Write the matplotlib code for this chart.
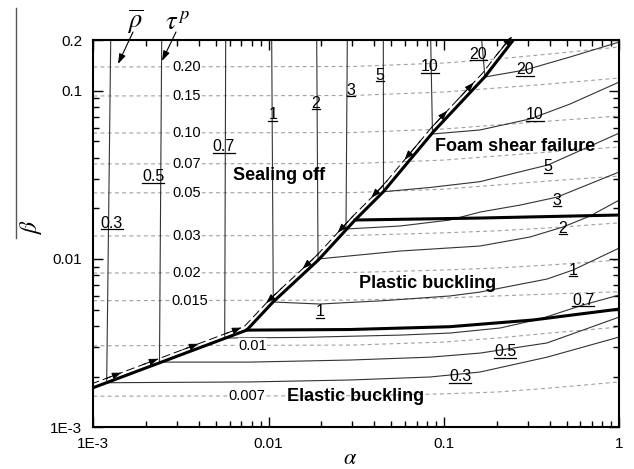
import numpy as np
import matplotlib
matplotlib.use('Agg')
import matplotlib.pyplot as plt
from matplotlib import transforms
from matplotlib.lines import Line2D
from matplotlib.ticker import NullFormatter

plt.rcParams['font.family'] = ['Liberation Sans', 'DejaVu Sans']
plt.rcParams['mathtext.fontset'] = 'stix'

W, H = 634, 469

# regime boundaries (thick lines)
bound_a = [0.001, 0.0075, 0.01063, 0.0192, 0.0311, 0.0451, 0.087, 0.1714, 0.2486]
bound_b = [0.00172, 0.00378, 0.00557, 0.00986, 0.01704, 0.02509, 0.057, 0.1211, 0.2]
elastic_a = [0.0075, 0.0291, 0.108, 0.322, 0.597, 1.0]
elastic_b = [0.00378, 0.00381, 0.00396, 0.00434, 0.00471, 0.00504]
shear_a = [0.0311, 0.1605, 1.0]
shear_b = [0.01704, 0.01751, 0.01825]

# rho-bar contours (solid thin lines)
rho_labels = ['0.3', '0.5', '0.7', '1', '2', '3', '5', '10', '20']
rho_a = [
    [0.001257, 0.001192, 0.00783, 0.0291, 0.0833, 0.1605, 0.387, 1.0],
    [0.002455, 0.002385, 0.00783, 0.0291, 0.0833, 0.1605, 0.387, 1.0],
    [0.00569, 0.005616, 0.0151, 0.0562, 0.108, 0.209, 0.353, 0.621, 1.0],
    [0.01041, 0.01063, 0.0196, 0.0449, 0.108, 0.1605, 0.387, 0.5445, 1.0],
    [0.0188, 0.01913, 0.0562, 0.1605, 0.3096, 0.4775, 0.681, 1.0],
    [0.0281, 0.02762, 0.0562, 0.108, 0.1605, 0.2715, 0.441, 1.0],
    [0.04509, 0.04521, 0.0833, 0.1605, 0.392, 1.0],
    [0.084, 0.086, 0.1605, 0.3096, 0.5236, 1.0],
    [0.1641, 0.1714, 0.29, 0.5236, 1.0],
]
rho_b = [
    [0.2, 0.00184, 0.00186, 0.00191, 0.00199, 0.00213, 0.00261, 0.00344],
    [0.2, 0.00244, 0.00244, 0.00251, 0.00261, 0.00276, 0.00317, 0.00452],
    [0.2, 0.00339, 0.00342, 0.00353, 0.00363, 0.00389, 0.0044, 0.00533, 0.00611],
    [0.2, 0.00555, 0.0054, 0.00565, 0.00603, 0.00636, 0.0076, 0.0086, 0.01162],
    [0.2, 0.01, 0.01115, 0.01194, 0.01351, 0.01549, 0.018, 0.0224],
    [0.2, 0.01507, 0.0157, 0.01704, 0.019, 0.0209, 0.0233, 0.0329],
    [0.2, 0.0251, 0.0266, 0.0288, 0.0362, 0.056],
    [0.2, 0.0553, 0.0584, 0.0679, 0.0833, 0.1126],
    [0.2, 0.1206, 0.1327, 0.1585, 0.1946],
]

# tau^p contours (dashed grey lines)
tau_labels = ['0.20', '0.15', '0.10', '0.07', '0.05', '0.03', '0.02', '0.015', '0.01', '0.007']
tau_a = [0.001, 0.03, 0.1, 0.2, 0.4, 1.0]
tau_b = [
    [0.1383, 0.1392, 0.146, 0.1542, 0.1651, 0.1817],
    [0.093, 0.0936, 0.0982, 0.1037, 0.1096, 0.1189],
    [0.056, 0.0564, 0.0592, 0.0625, 0.066, 0.0707],
    [0.0367, 0.0369, 0.0387, 0.0409, 0.0432, 0.0463],
    [0.0247, 0.0248, 0.026, 0.0275, 0.0291, 0.0311],
    [0.0137, 0.0138, 0.0143, 0.0147, 0.0153, 0.0164],
    [0.00825, 0.00831, 0.0086, 0.00884, 0.00921, 0.00986],
    [0.00565, 0.0057, 0.00586, 0.00603, 0.00619, 0.00639],
    [0.00305, 0.00308, 0.00321, 0.00339, 0.00363, 0.00394],
    [0.00153, 0.00154, 0.00158, 0.00162, 0.00171, 0.00186],
]

# label placement (alpha, beta)
rho_lab_pos = [
    ('0.3', 0.001273, 0.01629), ('0.5', 0.002199, 0.0308), ('0.7', 0.005564, 0.0465),
    ('1', 0.01055, 0.0717), ('2', 0.01863, 0.0841), ('3', 0.0295, 0.1009),
    ('5', 0.04316, 0.1231), ('10', 0.08325, 0.1383), ('20', 0.157, 0.1651),
    ('20', 0.2899, 0.1327), ('10', 0.3306, 0.0717), ('5', 0.3922, 0.0353),
    ('3', 0.4413, 0.0224), ('2', 0.4775, 0.01521), ('1', 0.5445, 0.0086),
    ('0.7', 0.621, 0.0057), ('1', 0.01963, 0.00486), ('0.5', 0.2229, 0.00281),
    ('0.3', 0.1235, 0.002),
]
tau_lab_a = [0.00342] * 7 + [0.00355, 0.00807, 0.00753]
regions = [
    ('Sealing off', 0.01146, 0.0315), ('Foam shear failure', 0.2531, 0.0463),
    ('Plastic buckling', 0.0811, 0.00717), ('Elastic buckling', 0.0315, 0.00152),
]
# arrows along the path: (alpha, direction)
arrows = [(0.001347, 1), (0.002188, 1), (0.003703, 1), (0.006515, 1),
          (0.01112, -1), (0.01791, -1), (0.02836, -1), (0.04415, -1), (0.0684, -1),
          (0.0971, 1), (0.1377, 1), (0.2279, 1)]

fig = plt.figure(figsize=(W / 100, H / 100), dpi=100)
ax = fig.add_axes([93.3 / W, 1 - 427.3 / H, 526 / W, 387.3 / H])
ax.set_xscale('log')
ax.set_yscale('log')
ax.set_xlim(1e-3, 1)
ax.set_ylim(1e-3, 0.2)

for tb in tau_b:
    ax.plot(tau_a, tb, color='#a0a0a0', lw=0.8, ls=(0, (3.5, 3)), zorder=1)
for ra, rb in zip(rho_a, rho_b):
    ax.plot(ra, rb, color='#333333', lw=0.8, zorder=2)

ax.plot(bound_a, bound_b, color='k', lw=2.2, zorder=3, solid_joinstyle='miter')
ax.plot(elastic_a, elastic_b, color='k', lw=2.2, zorder=3)
ax.plot(shear_a, shear_b, color='k', lw=2.2, zorder=3)

# dashed path with arrows, shifted up-left from the boundary
off = transforms.offset_copy(ax.transData, fig=fig, x=-2.5, y=3.5, units='dots')
ax.plot(bound_a, bound_b, color='k', lw=0.7, ls=(0, (9, 4)), transform=off, zorder=3)
la, lb = np.log10(bound_a), np.log10(bound_b)
for a, d in arrows:
    a0 = a * 10 ** (-0.045 * d)
    a1 = a * 10 ** (0.045 * d)
    b0 = 10 ** np.interp(np.log10(a0), la, lb)
    b1 = 10 ** np.interp(np.log10(a1), la, lb)
    ax.annotate('', xy=(a1, b1), xytext=(a0, b0), xycoords=off, textcoords=off,
                arrowprops=dict(arrowstyle='-|>,head_length=0.55,head_width=0.2',
                                color='k', lw=0.7, shrinkA=0, shrinkB=0), zorder=4)

under = []
for s, a, b in rho_lab_pos:
    t = ax.text(a, b, s, fontsize=11.5, ha='center', va='center', zorder=5)
    under.append(t)
for s, a, tb in zip(tau_labels, tau_lab_a, tau_b):
    ax.text(a, tb[0], s, fontsize=10.5, ha='center', va='center', zorder=5,
            bbox=dict(fc='white', ec='none', pad=0.3))
for s, a, b in regions:
    ax.text(a, b, s, fontsize=13, fontweight='bold', ha='center', va='center', zorder=5)

ax.set_xticks([1e-3, 1e-2, 1e-1, 1])
ax.set_xticklabels(['1E-3', '0.01', '0.1', '1'])
ax.set_yticks([1e-3, 1e-2, 1e-1, 0.2])
ax.set_yticklabels(['1E-3', '0.01', '0.1', '0.2'])
ax.xaxis.set_minor_formatter(NullFormatter())
ax.yaxis.set_minor_formatter(NullFormatter())
ax.tick_params(which='both', direction='in', top=True, right=True, width=1, labelsize=11)
ax.tick_params(which='major', length=7)
ax.tick_params(which='minor', length=4)
ax.tick_params(axis='x', pad=7)
ax.tick_params(axis='y', pad=8)
for sp in ax.spines.values():
    sp.set_linewidth(1.5)

# axis symbols and annotations
fig.text(350 / W, 1 - 458 / H, r'$\alpha$', fontsize=16, ha='center', va='center')
fig.text(31 / W, 1 - 226 / H, r'$\beta$', fontsize=17, ha='center', va='center', rotation=90)
fig.add_artist(Line2D([15.7 / W] * 2, [1 - 8 / H, 1 - 238 / H], color='#555555', lw=1))
fig.text(135 / W, 1 - 22 / H, r'$\overline{\rho}$', fontsize=19, ha='center', va='center')
fig.text(178 / W, 1 - 22 / H, r'$\tau^{\,p}$', fontsize=19, ha='center', va='center')
ax.annotate('', xy=(118, H - 64), xytext=(133, H - 32), xycoords='figure pixels',
            textcoords='figure pixels', annotation_clip=False,
            arrowprops=dict(arrowstyle='-|>,head_length=0.6,head_width=0.2', color='k',
                            lw=0.8, shrinkA=0, shrinkB=0))
ax.annotate('', xy=(162, H - 61), xytext=(176, H - 32), xycoords='figure pixels',
            textcoords='figure pixels', annotation_clip=False,
            arrowprops=dict(arrowstyle='-|>,head_length=0.6,head_width=0.2', color='k',
                            lw=0.8, shrinkA=0, shrinkB=0))

# underline the rho-bar labels
fig.canvas.draw()
for t in under:
    bb = t.get_window_extent()
    y = bb.y0 + 1.5
    fig.add_artist(Line2D([bb.x0 / W, bb.x1 / W], [y / H, y / H], color='k', lw=0.9))

fig.savefig('out.png', dpi=100)
